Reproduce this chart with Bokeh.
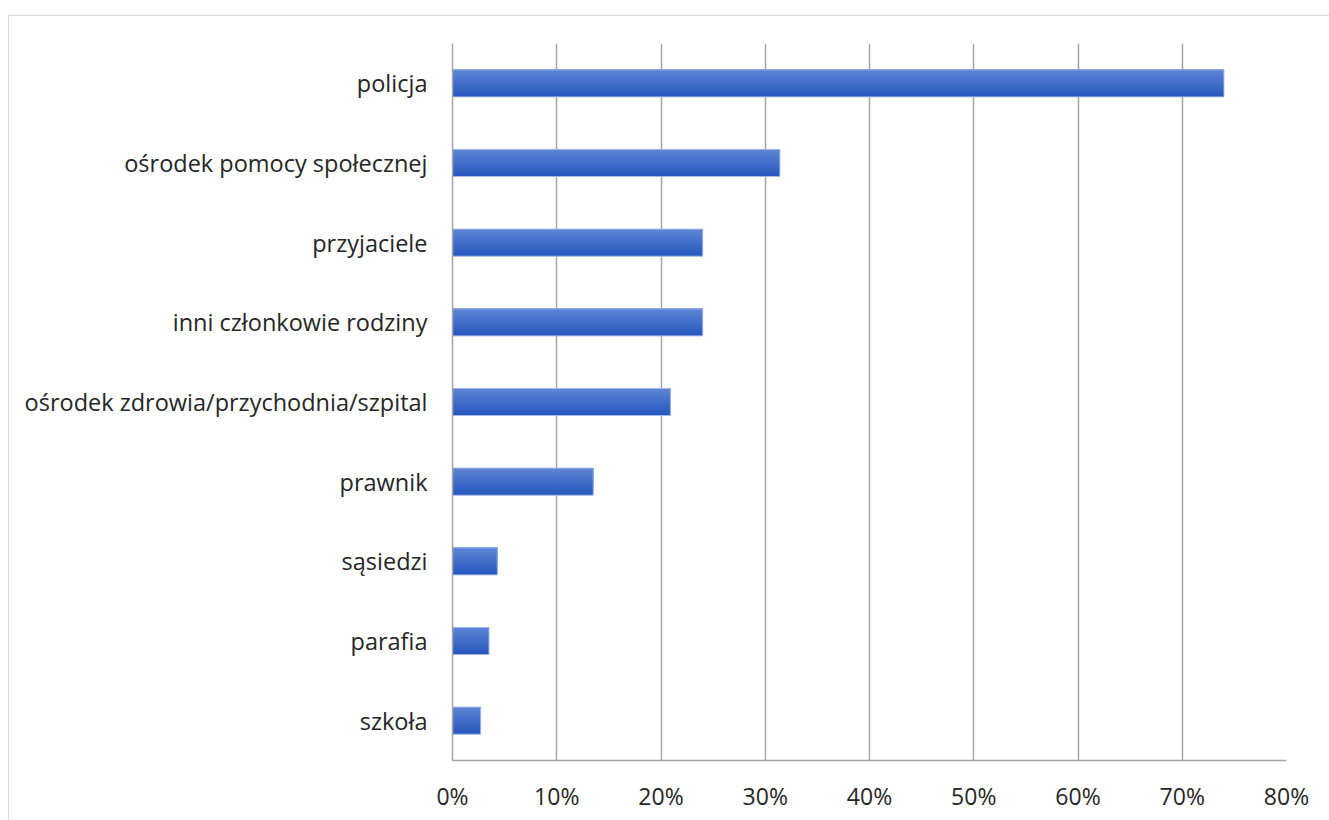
from bokeh.plotting import figure
from bokeh.models import ColumnDataSource, FactorRange, NumeralTickFormatter, FixedTicker
from bokeh.transform import dodge
from bokeh.embed import file_html
from bokeh.resources import INLINE

categories = ["policja", "ośrodek pomocy społecznej", "przyjaciele", "inni członkowie rodziny",
              "ośrodek zdrowia/przychodnia/szpital", "prawnik", "sąsiedzi", "parafia", "szkoła"]
values = [0.740, 0.314, 0.240, 0.240, 0.209, 0.135, 0.043, 0.035, 0.027]
x_ticks = [0, 0.1, 0.2, 0.3, 0.4, 0.5, 0.6, 0.7, 0.8]

FONT = "Open Sans"
BAR_H = 0.34

p = figure(width=1329, height=820, output_backend="svg", toolbar_location=None,
           y_range=FactorRange(*list(reversed(categories))), x_range=(0, 0.8),
           min_border_left=452, min_border_right=43, min_border_top=43, min_border_bottom=60,
           border_fill_color=None, background_fill_color="white")
# light chart-area border (top and left edge) drawn as CSS background behind transparent canvas border
p.styles = {"background": "linear-gradient(#d9d9d9,#d9d9d9) 8px 15px / 1px 100% no-repeat, "
                          "linear-gradient(#d9d9d9,#d9d9d9) 8px 15px / 100% 1px no-repeat, white"}

src = ColumnDataSource(dict(cat=categories, val=values))

# vertical gradient simulated by stacked bars anchored at the top (dark bottom -> light top)
top_c = (0x5d, 0x83, 0xd4)
bot_c = (0x26, 0x58, 0xbe)
N = 14
for k in range(N):
    t = k / (N - 1)
    c = tuple(int(round(bot_c[j] + (top_c[j] - bot_c[j]) * t)) for j in range(3))
    col = "#%02x%02x%02x" % c
    h = BAR_H * (N - k) / N
    off = BAR_H / 2 - h / 2
    p.hbar(y=dodge("cat", off, range=p.y_range), left=0, right="val", height=h,
           fill_color=col, line_color=None, source=src)

p.hbar(y="cat", left=0, right="val", height=BAR_H, fill_alpha=0,
       line_color="#a4b8e8", line_width=1, source=src)

p.xaxis.ticker = FixedTicker(ticks=x_ticks)
p.xaxis.formatter = NumeralTickFormatter(format="0%")
p.xaxis.major_tick_line_color = None
p.xaxis.minor_tick_line_color = None
p.xaxis.axis_line_color = "#a6a6a6"
p.xaxis.axis_line_width = 1.5
p.xaxis.major_label_text_font = FONT
p.xaxis.major_label_text_font_size = "23px"
p.xaxis.major_label_text_color = "#262626"
p.xaxis.major_label_standoff = 13

p.yaxis.axis_line_color = "#a6a6a6"
p.yaxis.axis_line_width = 1.5
p.yaxis.major_tick_line_color = None
p.yaxis.minor_tick_line_color = None
p.yaxis.major_label_text_font = FONT
p.yaxis.major_label_text_font_size = "23.5px"
p.yaxis.major_label_text_color = "#262626"
p.yaxis.major_label_standoff = 19

p.ygrid.grid_line_color = None
p.xgrid.ticker = FixedTicker(ticks=x_ticks)
p.xgrid.grid_line_color = "#a6a6a6"
p.xgrid.grid_line_width = 1.5
p.outline_line_color = None

open("out.html", "w").write(file_html(p, INLINE))
